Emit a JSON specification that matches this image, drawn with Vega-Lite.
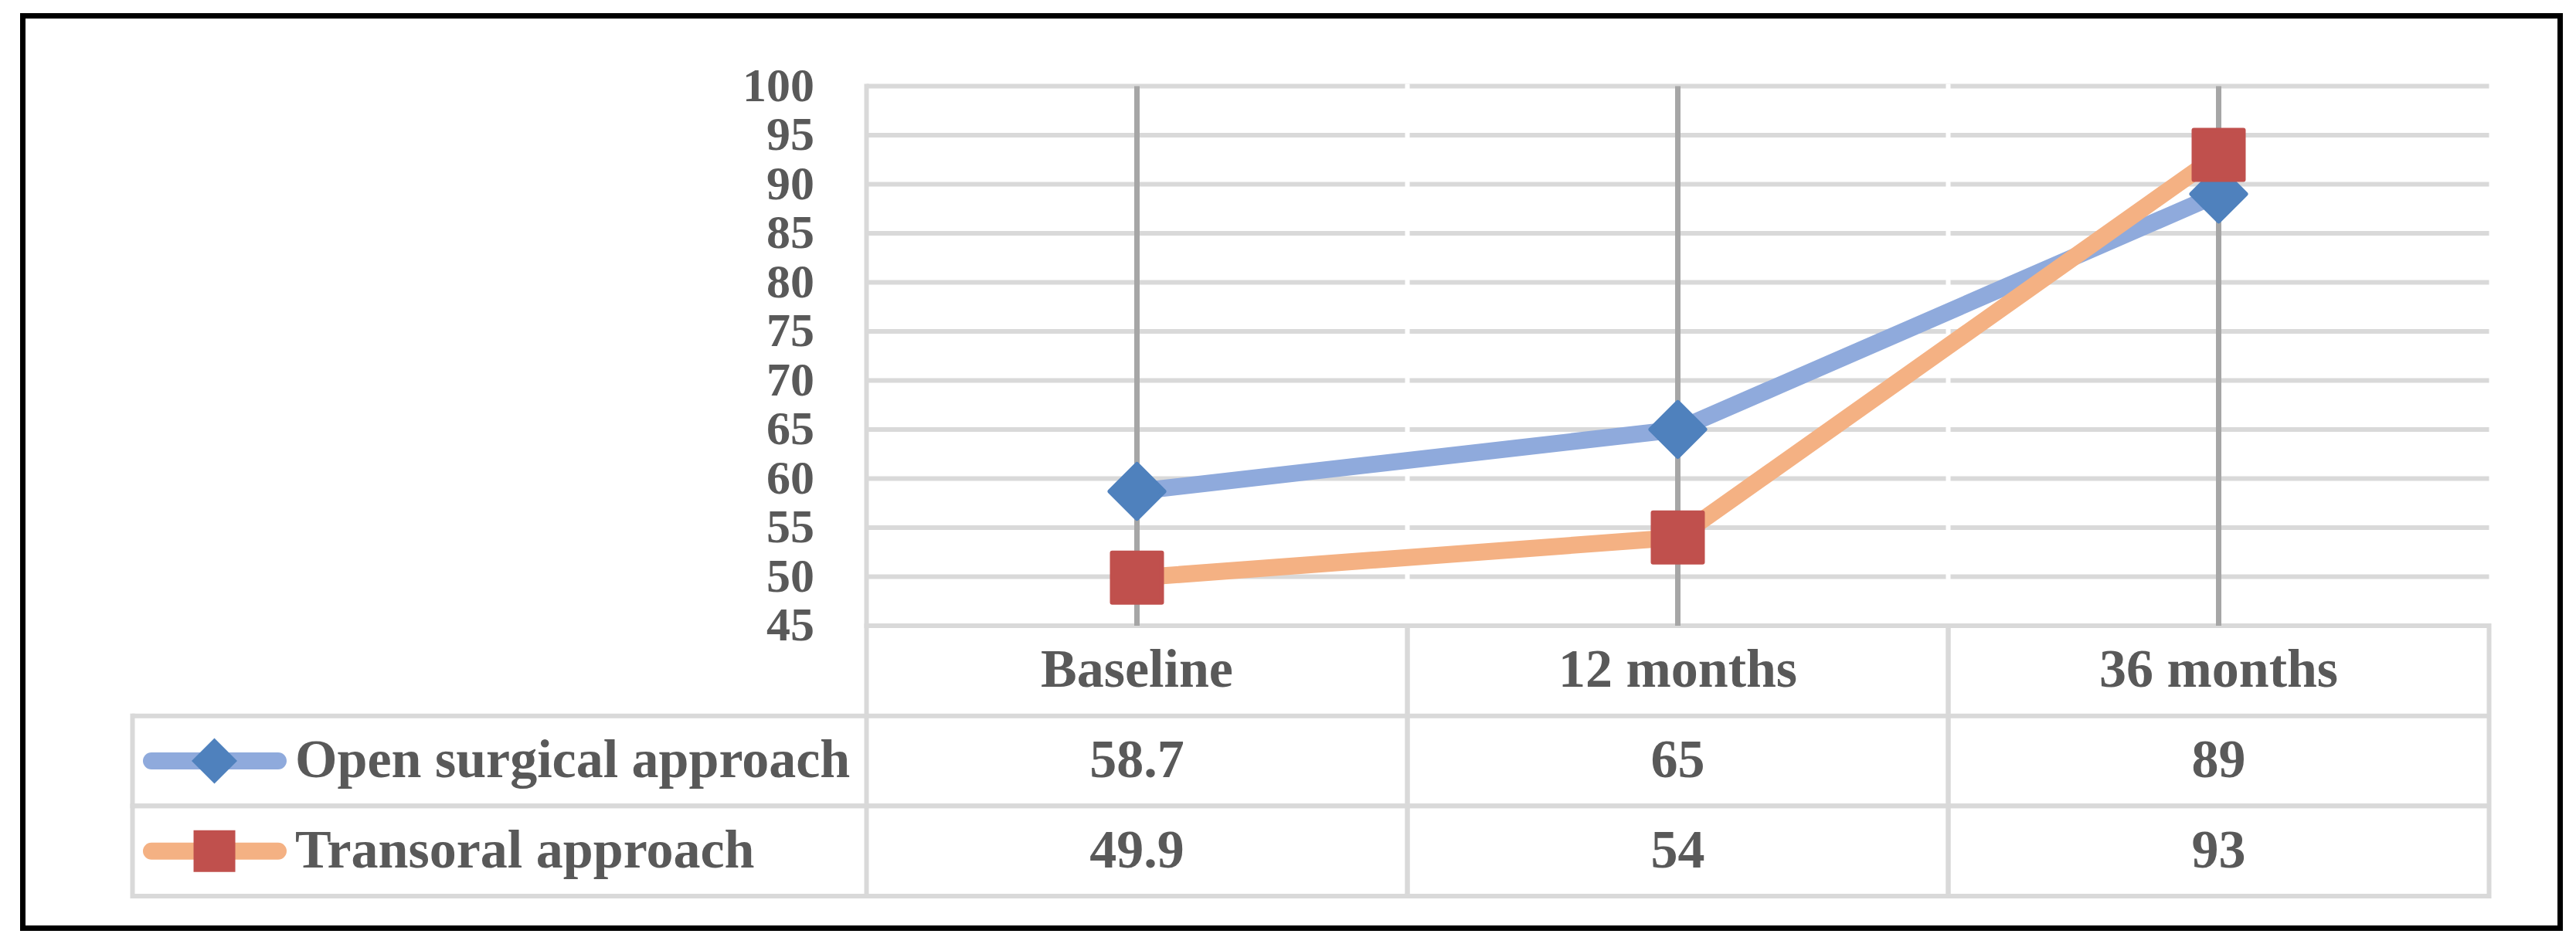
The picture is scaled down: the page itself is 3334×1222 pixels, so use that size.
{
  "$schema": "https://vega.github.io/schema/vega-lite/v6.json",
  "width": 3284,
  "height": 1181,
  "autosize": {"type": "none"},
  "padding": {"left": 29.5, "top": 20.5, "right": 20.5, "bottom": 20.5},
  "background": "white",
  "config": {
    "view": {"stroke": "black", "strokeWidth": 7, "fill": "white"}
  },
  "datasets": {
    "scores": [
      {"series": "Open surgical approach", "time": "Baseline", "months": 0, "value": 58.7},
      {"series": "Open surgical approach", "time": "12 months", "months": 12, "value": 65},
      {"series": "Open surgical approach", "time": "36 months", "months": 36, "value": 89},
      {"series": "Transoral approach", "time": "Baseline", "months": 0, "value": 49.9},
      {"series": "Transoral approach", "time": "12 months", "months": 12, "value": 54},
      {"series": "Transoral approach", "time": "36 months", "months": 36, "value": 93}
    ],
    "times": [{"time": "Baseline"}, {"time": "12 months"}, {"time": "36 months"}],
    "rows": [{"series": "Open surgical approach"}, {"series": "Transoral approach"}],
    "ticks": [{"tick": 45}, {"tick": 50}, {"tick": 55}, {"tick": 60}, {"tick": 65}, {"tick": 70}, {"tick": 75}, {"tick": 80}, {"tick": 85}, {"tick": 90}, {"tick": 95}, {"tick": 100}]
  },
  "resolve": {
    "scale": {"x": "independent", "y": "independent", "shape": "independent", "size": "independent", "fill": "independent", "stroke": "independent", "color": "independent"},
    "axis": {"x": "independent", "y": "independent"}
  },
  "layer": [
    {
      "layer": [
        {
          "data": {"name": "ticks"},
          "mark": {"type": "rule", "color": "#D9D9D9", "strokeWidth": 6},
          "encoding": {
            "x": {"datum": "Baseline", "type": "nominal", "bandPosition": 0, "axis": null,
              "scale": {"type": "band", "domain": ["Baseline", "12 months", "36 months"], "paddingInner": 0, "paddingOuter": 0.845714, "align": 0.922297}},
            "x2": {"datum": "36 months", "bandPosition": 1},
            "y": {"field": "tick", "type": "quantitative",
              "scale": {"type": "linear", "domain": [14.173, 107.165], "nice": false, "zero": false},
              "axis": {"orient": "left", "offset": -1092, "values": [45, 50, 55, 60, 65, 70, 75, 80, 85, 90, 95, 100], "domain": false, "ticks": false, "grid": false, "title": null, "labelPadding": 68, "labelFont": "Liberation Serif", "labelFontSize": 62, "labelFontWeight": "bold", "labelColor": "#595959", "labelOverlap": false, "labelFlush": false, "labelBaseline": "middle", "zindex": 5}}
          }
        },
        {
          "data": {"name": "times"},
          "transform": [{"filter": "datum.time != 'Baseline'"}],
          "mark": {"type": "rule", "color": "white", "strokeWidth": 6, "strokeCap": "square"},
          "encoding": {
            "x": {"field": "time", "type": "nominal", "bandPosition": 0},
            "y": {"datum": 45.5, "type": "quantitative"},
            "y2": {"datum": 100}
          }
        },
        {
          "data": {"name": "times"},
          "mark": {"type": "rule", "color": "#A6A6A6", "strokeWidth": 7},
          "encoding": {
            "x": {"field": "time", "type": "nominal"},
            "y": {"datum": 45, "type": "quantitative"},
            "y2": {"datum": 100}
          }
        },
        {
          "data": {"name": "times"},
          "transform": [{"filter": "datum.time == 'Baseline'"}],
          "mark": {"type": "rule", "color": "#D9D9D9", "strokeWidth": 6, "strokeCap": "square"},
          "encoding": {
            "x": {"field": "time", "type": "nominal", "bandPosition": 0},
            "y": {"datum": 45, "type": "quantitative"},
            "y2": {"datum": 100}
          }
        },
        {
          "data": {"name": "scores"},
          "mark": {"type": "line", "strokeWidth": 22, "strokeJoin": "round"},
          "encoding": {
            "x": {"field": "time", "type": "nominal"},
            "y": {"field": "value", "type": "quantitative"},
            "order": {"field": "months", "type": "quantitative"},
            "stroke": {"field": "series", "type": "nominal", "legend": null,
              "scale": {"domain": ["Open surgical approach", "Transoral approach"], "range": ["#8FAADC", "#F4B183"]}}
          }
        },
        {
          "data": {"name": "scores"},
          "mark": {"type": "point", "filled": true, "opacity": 1, "strokeWidth": 0},
          "encoding": {
            "x": {"field": "time", "type": "nominal"},
            "y": {"field": "value", "type": "quantitative"},
            "fill": {"field": "series", "type": "nominal", "legend": null,
              "scale": {"domain": ["Open surgical approach", "Transoral approach"], "range": ["#4F81BD", "#C0504D"]}},
            "shape": {"field": "series", "type": "nominal", "legend": null,
              "scale": {"domain": ["Open surgical approach", "Transoral approach"], "range": ["diamond", "square"]}},
            "size": {"field": "series", "type": "nominal", "legend": null,
              "scale": {"domain": ["Open surgical approach", "Transoral approach"], "range": [4900, 4096]}}
          }
        },
        {
          "data": {"name": "scores"},
          "transform": [{"filter": "datum.series == 'Open surgical approach'"}],
          "mark": {"type": "point", "filled": false, "opacity": 1, "strokeWidth": 6, "strokeJoin": "round", "stroke": "#4F81BD", "shape": "diamond", "size": 4900},
          "encoding": {
            "x": {"field": "time", "type": "nominal"},
            "y": {"field": "value", "type": "quantitative"}
          }
        },
        {
          "data": {"name": "scores"},
          "transform": [{"filter": "datum.series == 'Transoral approach'"}],
          "mark": {"type": "point", "filled": true, "opacity": 1, "strokeWidth": 6, "strokeJoin": "round", "stroke": "#C0504D", "fill": "#C0504D", "shape": "square", "size": 4096},
          "encoding": {
            "x": {"field": "time", "type": "nominal"},
            "y": {"field": "value", "type": "quantitative"}
          }
        }
      ]
    },
    {
      "layer": [
        {
          "data": {"name": "rows"},
          "mark": {"type": "rule", "color": "#D9D9D9", "strokeWidth": 6},
          "encoding": {
            "x": {"datum": "Baseline", "type": "nominal", "bandPosition": 0, "axis": null,
              "scale": {"type": "band", "domain": ["Baseline", "12 months", "36 months"], "paddingInner": 0, "paddingOuter": 0.845714, "align": 0.922297}},
            "x2": {"datum": "36 months", "bandPosition": 1},
            "y": {"field": "series", "type": "nominal", "bandPosition": 0, "axis": null,
              "scale": {"type": "band", "domain": ["Header", "Open surgical approach", "Transoral approach"], "paddingInner": 0, "paddingOuter": 0, "range": [789.5, 1139.5]}}
          }
        },
        {
          "data": {"name": "rows"},
          "mark": {"type": "rule", "color": "#D9D9D9", "strokeWidth": 6},
          "encoding": {
            "x": {"datum": "Baseline", "type": "nominal", "bandPosition": 0, "axis": null},
            "x2": {"datum": "36 months", "bandPosition": 1},
            "y": {"field": "series", "type": "nominal", "bandPosition": 1, "axis": null}
          }
        },
        {
          "data": {"name": "times"},
          "mark": {"type": "rule", "color": "#D9D9D9", "strokeWidth": 6, "strokeCap": "square"},
          "encoding": {
            "x": {"field": "time", "type": "nominal", "bandPosition": 0, "axis": null},
            "y": {"datum": "Header", "type": "nominal", "bandPosition": 0, "axis": null},
            "y2": {"datum": "Transoral approach", "bandPosition": 1}
          }
        },
        {
          "data": {"name": "times"},
          "mark": {"type": "rule", "color": "#D9D9D9", "strokeWidth": 6, "strokeCap": "square"},
          "encoding": {
            "x": {"field": "time", "type": "nominal", "bandPosition": 1, "axis": null},
            "y": {"datum": "Header", "type": "nominal", "bandPosition": 0, "axis": null},
            "y2": {"datum": "Transoral approach", "bandPosition": 1}
          }
        },
        {
          "data": {"name": "times"},
          "mark": {"type": "text", "font": "Liberation Serif", "fontSize": 70, "fontWeight": "bold", "color": "#595959", "align": "center", "baseline": "middle"},
          "encoding": {
            "x": {"field": "time", "type": "nominal", "axis": null},
            "y": {"datum": "Header", "type": "nominal", "axis": null},
            "text": {"field": "time", "type": "nominal"}
          }
        },
        {
          "data": {"name": "scores"},
          "mark": {"type": "text", "font": "Liberation Serif", "fontSize": 70, "fontWeight": "bold", "color": "#595959", "align": "center", "baseline": "middle"},
          "encoding": {
            "x": {"field": "time", "type": "nominal", "axis": null},
            "y": {"field": "series", "type": "nominal", "axis": null},
            "text": {"field": "value", "type": "nominal"}
          }
        }
      ]
    },
    {
      "layer": [
        {
          "data": {"name": "rows"},
          "mark": {"type": "rule", "color": "#D9D9D9", "strokeWidth": 6},
          "encoding": {
            "x": {"datum": "key", "type": "nominal", "bandPosition": 0, "axis": null,
              "scale": {"type": "band", "domain": ["key"], "paddingInner": 0, "paddingOuter": 0, "range": [142, 1092]}},
            "x2": {"datum": "key", "bandPosition": 1},
            "y": {"field": "series", "type": "nominal", "bandPosition": 0, "axis": null,
              "scale": {"type": "band", "domain": ["Header", "Open surgical approach", "Transoral approach"], "paddingInner": 0, "paddingOuter": 0, "range": [789.5, 1139.5]}}
          }
        },
        {
          "data": {"name": "rows"},
          "mark": {"type": "rule", "color": "#D9D9D9", "strokeWidth": 6},
          "encoding": {
            "x": {"datum": "key", "type": "nominal", "bandPosition": 0, "axis": null},
            "x2": {"datum": "key", "bandPosition": 1},
            "y": {"field": "series", "type": "nominal", "bandPosition": 1, "axis": null}
          }
        },
        {
          "data": {"name": "rows"},
          "mark": {"type": "rule", "color": "#D9D9D9", "strokeWidth": 6, "strokeCap": "square"},
          "encoding": {
            "x": {"datum": "key", "type": "nominal", "bandPosition": 0, "axis": null},
            "y": {"field": "series", "type": "nominal", "bandPosition": 0, "axis": null},
            "y2": {"field": "series", "bandPosition": 1}
          }
        },
        {
          "data": {"name": "rows"},
          "mark": {"type": "rule", "strokeWidth": 22, "strokeCap": "round"},
          "encoding": {
            "x": {"datum": "key", "type": "nominal", "bandPosition": 0.0258, "axis": null},
            "x2": {"datum": "key", "bandPosition": 0.1984},
            "y": {"field": "series", "type": "nominal", "axis": null},
            "stroke": {"field": "series", "type": "nominal", "legend": null,
              "scale": {"domain": ["Open surgical approach", "Transoral approach"], "range": ["#8FAADC", "#F4B183"]}}
          }
        },
        {
          "data": {"name": "rows"},
          "mark": {"type": "point", "filled": true, "opacity": 1, "strokeWidth": 0},
          "encoding": {
            "x": {"datum": "key", "type": "nominal", "bandPosition": 0.1116, "axis": null},
            "y": {"field": "series", "type": "nominal", "axis": null},
            "fill": {"field": "series", "type": "nominal", "legend": null,
              "scale": {"domain": ["Open surgical approach", "Transoral approach"], "range": ["#4F81BD", "#C0504D"]}},
            "shape": {"field": "series", "type": "nominal", "legend": null,
              "scale": {"domain": ["Open surgical approach", "Transoral approach"], "range": ["diamond", "square"]}},
            "size": {"field": "series", "type": "nominal", "legend": null,
              "scale": {"domain": ["Open surgical approach", "Transoral approach"], "range": [3481, 2916]}}
          }
        },
        {
          "data": {"name": "rows"},
          "mark": {"type": "text", "font": "Liberation Serif", "fontSize": 70, "fontWeight": "bold", "color": "#595959", "align": "left", "baseline": "middle"},
          "encoding": {
            "x": {"datum": "key", "type": "nominal", "bandPosition": 0.2216, "axis": null},
            "y": {"field": "series", "type": "nominal", "axis": null},
            "text": {"field": "series", "type": "nominal"}
          }
        }
      ]
    }
  ]
}
